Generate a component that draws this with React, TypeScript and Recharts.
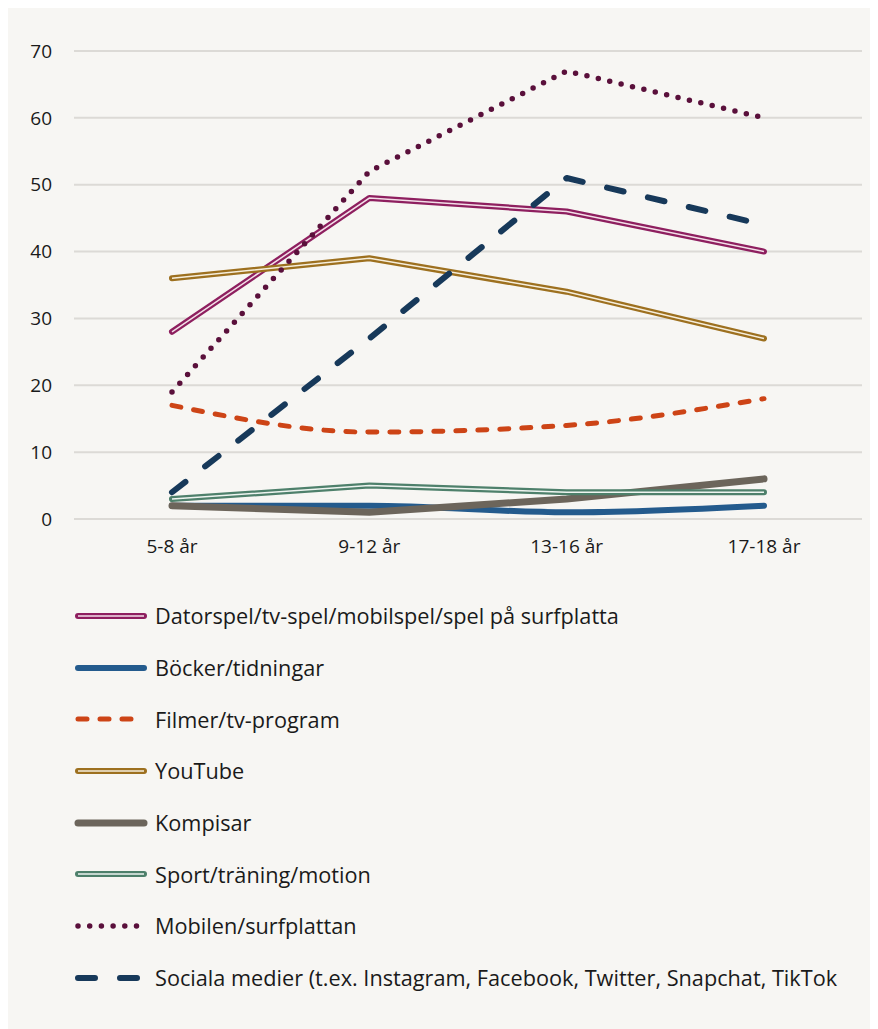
import { CartesianGrid, Line, LineChart, XAxis, YAxis } from 'recharts';

const AGE_GROUPS = ['5-8 år', '9-12 år', '13-16 år', '17-18 år'];

const DATORSPEL = [28, 48, 46, 40];
const BOCKER = [2, 2, 1, 2];
const FILMER = [17, 13, 14, 18];
const YOUTUBE = [36, 39, 34, 27];
const KOMPISAR = [2, 1, 3, 6];
const SPORT = [3, 5, 4, 4];
const MOBILEN = [19, 52, 67, 60];
const SOCIALA = [4, 27, 51, 44];

const Y_TICKS = [0, 10, 20, 30, 40, 50, 60, 70];

const FONT = '"Open Sans", Lato, sans-serif';

type SeriesStyle = {
  key: string;
  label: string;
  color: string;
  width: number;
  dash?: string;
  inner?: string; // double line: thin light stroke on top
  curve?: 'linear' | 'monotone';
};

const SERIES: SeriesStyle[] = [
  { key: 'datorspel', label: 'Datorspel/tv-spel/mobilspel/spel på surfplatta', color: '#8e1f5f', width: 6, inner: '#f3dfe8' },
  { key: 'bocker', label: 'Böcker/tidningar', color: '#245b8d', width: 6, curve: 'monotone' },
  { key: 'filmer', label: 'Filmer/tv-program', color: '#cd4416', width: 5, dash: '9 13', curve: 'monotone' },
  { key: 'youtube', label: 'YouTube', color: '#9d701f', width: 6, inner: '#f6eedc' },
  { key: 'kompisar', label: 'Kompisar', color: '#6c655b', width: 7 },
  { key: 'sport', label: 'Sport/träning/motion', color: '#4e806b', width: 6, inner: '#eef4f0' },
  { key: 'mobilen', label: 'Mobilen/surfplattan', color: '#5a103b', width: 5.5, dash: '0 11.7' },
  { key: 'sociala', label: 'Sociala medier (t.ex. Instagram, Facebook, Twitter, Snapchat, TikTok', color: '#17395a', width: 6, dash: '17 25' },
];

const VALUES: Record<string, number[]> = {
  datorspel: DATORSPEL,
  bocker: BOCKER,
  filmer: FILMER,
  youtube: YOUTUBE,
  kompisar: KOMPISAR,
  sport: SPORT,
  mobilen: MOBILEN,
  sociala: SOCIALA,
};

const data = AGE_GROUPS.map((age, i) => {
  const row: Record<string, string | number> = { age };
  for (const s of SERIES) row[s.key] = VALUES[s.key][i];
  return row;
});

function LegendRow({ s }: { s: SeriesStyle }) {
  return (
    <div style={{ display: 'flex', alignItems: 'center', height: 51.7 }}>
      <svg width={82} height={14} style={{ marginLeft: 62, flexShrink: 0 }}>
        <line
          x1={8}
          x2={74}
          y1={7}
          y2={7}
          stroke={s.color}
          strokeWidth={s.width}
          strokeDasharray={s.dash}
          strokeLinecap="round"
        />
        {s.inner && (
          <line x1={8} x2={74} y1={7} y2={7} stroke={s.inner} strokeWidth={1.5} />
        )}
      </svg>
      <span style={{ fontSize: 21.7, color: '#1a1a1a', marginLeft: 3, whiteSpace: 'nowrap' }}>{s.label}</span>
    </div>
  );
}

export default function App() {
  return (
    <div
      style={{
        position: 'relative',
        width: 870,
        height: 1021,
        background: '#f7f6f3',
        fontFamily: FONT,
      }}
    >
      <LineChart
        width={870}
        height={570}
        data={data}
        margin={{ top: 43, right: 16, bottom: 19, left: 16 }}
      >
        <CartesianGrid vertical={false} stroke="#dcdad6" strokeWidth={2} />
        <XAxis
          dataKey="age"
          padding={{ left: 98, right: 98 }}
          axisLine={{ stroke: '#dcdad6', strokeWidth: 2 }}
          tickLine={false}
          tickSize={0}
          tickMargin={21}
          height={40}
          tick={{ fill: '#1a1a1a', fontSize: 19, fontFamily: FONT }}
        />
        <YAxis
          domain={[0, 70]}
          ticks={Y_TICKS}
          axisLine={false}
          tickLine={false}
          tickSize={0}
          tickMargin={22}
          width={50}
          tick={{ fill: '#1a1a1a', fontSize: 19, fontFamily: FONT }}
        />
        {SERIES.flatMap((s) => {
          const lines = [
            <Line
              key={s.key}
              dataKey={s.key}
              type={s.curve ?? 'linear'}
              stroke={s.color}
              strokeWidth={s.width}
              strokeDasharray={s.dash}
              strokeLinecap="round"
              strokeLinejoin="round"
              dot={false}
              activeDot={false}
              isAnimationActive={false}
            />,
          ];
          if (s.inner) {
            lines.push(
              <Line
                key={s.key + '-inner'}
                dataKey={s.key}
                type={s.curve ?? 'linear'}
                stroke={s.inner}
                strokeWidth={1.5}
                dot={false}
                activeDot={false}
                legendType="none"
                isAnimationActive={false}
              />
            );
          }
          return lines;
        })}
      </LineChart>
      <div style={{ position: 'absolute', left: 0, top: 582 }}>
        {SERIES.map((s) => (
          <LegendRow key={s.key} s={s} />
        ))}
      </div>
    </div>
  );
}
